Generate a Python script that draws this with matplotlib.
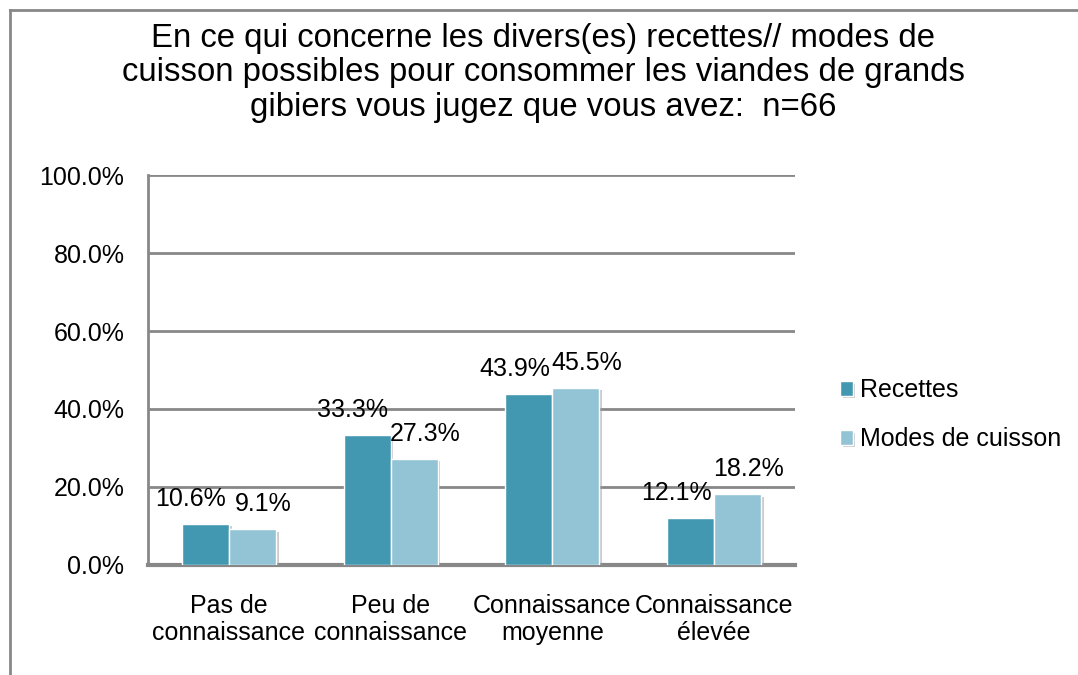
import matplotlib
matplotlib.use("Agg")
import matplotlib.pyplot as plt
import matplotlib.patheffects as pe
import numpy as np

plt.rcParams["font.family"] = ["Liberation Sans", "DejaVu Sans"]

categories = ["Pas de\nconnaissance", "Peu de\nconnaissance",
              "Connaissance\nmoyenne", "Connaissance\nélevée"]
series_names = ["Recettes", "Modes de cuisson"]
recettes = [10.6, 33.3, 43.9, 12.1]
modes = [9.1, 27.3, 45.5, 18.2]
yticks = [0, 20, 40, 60, 80, 100]

title = ("En ce qui concerne les divers(es) recettes// modes de\n"
         "cuisson possibles pour consommer les viandes de grands\n"
         "gibiers vous jugez que vous avez:  n=66")

DARK = "#4398b1"
LIGHT = "#93c4d5"
GRID = "#888888"
FS = 18

fig = plt.figure(figsize=(10.78, 6.75), dpi=100)
ax = fig.add_axes([0.1373, 0.163, 0.6002, 0.5777])

x = np.arange(len(categories))
w = 0.29
shadow = [pe.SimplePatchShadow(offset=(2, -2), shadow_rgbFace="#999999", alpha=0.5), pe.Normal()]
b1 = ax.bar(x - w / 2, recettes, w, color=DARK, edgecolor="white", linewidth=1,
            label=series_names[0], zorder=3, path_effects=shadow)
b2 = ax.bar(x + w / 2, modes, w, color=LIGHT, edgecolor="white", linewidth=1,
            label=series_names[1], zorder=3, path_effects=shadow)

# value labels, nudged apart like the Excel original
for bars, vals, dx in [(b1, recettes, -10.5), (b2, modes, 8)]:
    for bar, v in zip(bars, vals):
        ax.annotate(f"{v:.1f}%", (bar.get_x() + bar.get_width() / 2, v),
                    xytext=(dx, 18), textcoords="offset points",
                    ha="center", va="center", fontsize=FS, color="black",
                    zorder=4)

ax.set_xlim(-0.5, len(categories) - 0.5)
ax.set_ylim(0, 100)
ax.set_yticks(yticks)
ax.set_yticklabels([f"{t:.1f}%" for t in yticks], fontsize=FS)
ax.set_xticks(x)
ax.set_xticklabels(categories, fontsize=FS, linespacing=1.15)
ax.tick_params(length=0, pad=21)
ax.tick_params(axis="y", pad=17)
ax.yaxis.grid(True, color=GRID, linewidth=2)
ax.set_axisbelow(True)

for s in ["top", "right"]:
    ax.spines[s].set_visible(False)
ax.spines["left"].set_color(GRID)
ax.spines["left"].set_linewidth(2)
ax.spines["bottom"].set_color(GRID)
ax.spines["bottom"].set_linewidth(3)

fig.text(0.504, 0.892, title, ha="center", va="center", fontsize=23.7,
         linespacing=1.15)

ax.legend(loc="center left", bbox_to_anchor=(1.035, 0.385), frameon=False,
          fontsize=FS, handlelength=0.5, handleheight=0.5,
          handletextpad=0.3, labelspacing=1.0)

# outer chart frame (cropped on the right and bottom)
fig.add_artist(plt.Line2D([0.0093, 0.0093], [0.0, 0.985], color=GRID, lw=2,
                          transform=fig.transFigure))
fig.add_artist(plt.Line2D([0.0093, 1.0], [0.985, 0.985], color=GRID, lw=2,
                          transform=fig.transFigure))

fig.savefig("out.png", dpi=100)
